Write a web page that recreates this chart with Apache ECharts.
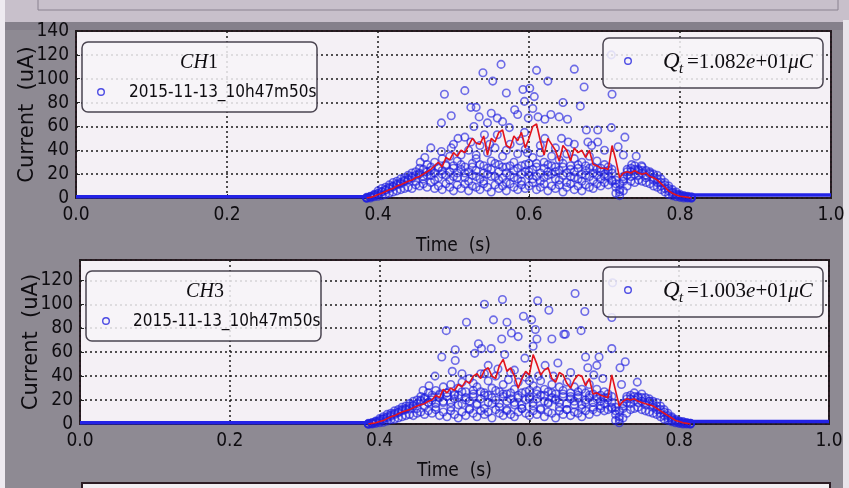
<!DOCTYPE html>
<html>
<head>
<meta charset="utf-8">
<script src="https://cdn.jsdelivr.net/npm/echarts@6/dist/echarts.min.js"></script>
<style>
  html, body { margin: 0; padding: 0; background: #8e8a93; }
  #chart { width: 849px; height: 488px; }
</style>
</head>
<body>
<div id="chart"></div>
<script>
// sample times (s) of the pulse region
const t = [
  0.385, 0.39, 0.395, 0.4, 0.405, 0.41, 0.415, 0.42, 0.425, 0.43,
  0.435, 0.44, 0.445, 0.45, 0.455, 0.46, 0.465, 0.47, 0.475, 0.48,
  0.485, 0.49, 0.495, 0.5, 0.505, 0.51, 0.515, 0.52, 0.525, 0.53,
  0.535, 0.54, 0.545, 0.55, 0.555, 0.56, 0.565, 0.57, 0.575, 0.58,
  0.585, 0.59, 0.595, 0.6, 0.605, 0.61, 0.615, 0.62, 0.625, 0.63,
  0.635, 0.64, 0.645, 0.65, 0.655, 0.66, 0.665, 0.67, 0.675, 0.68,
  0.685, 0.69, 0.695, 0.7, 0.705, 0.71, 0.715, 0.72, 0.725, 0.73,
  0.735, 0.74, 0.745, 0.75, 0.755, 0.76, 0.765, 0.77, 0.775, 0.78,
  0.785, 0.79, 0.795, 0.8, 0.805, 0.81, 0.815
]

// zero level outside the pulse
const baseT = [0.0, 0.39, 0.6, 0.8, 1.0]
const ch1Base = [1, 1, null, 2.5, 2.5]
const ch3Base = [1, 1, null, 2, 2]

// CH1 (uA)
const ch1Mean = [
  0, 0.5, 1.5, 3, 4, 5.5, 7, 8, 10, 11,
  12.5, 14, 15, 17, 18, 20, 22, 24, 27, 30,
  26, 34, 32, 38, 35, 40, 38, 44, 50, 46,
  45, 52, 36, 50, 47, 55, 57, 44, 42, 52,
  48, 55, 42, 50, 60, 62, 48, 36, 50, 45,
  40, 31, 44, 40, 31, 42, 38, 40, 34, 40,
  28, 27, 25, 25, 24, 44, 32, 17, 21, 22,
  21, 23, 21, 20, 21, 18, 17, 15, 12, 9,
  6, 4, 2.5, 1.5, 1, 0.5, 0
]
const ch1Lo = [
  0, 0, 1, 1.5, 2, 3, 4, 5, 6, 7,
  8, 9, 8, 11, 10, 12, 9, 13, 8, 10,
  7, 12, 9, 6, 11, 8, 12, 6, 10, 9,
  7, 12, 9, 5, 11, 8, 10, 6, 12, 9,
  7, 11, 8, 10, 13, 7, 9, 12, 6, 10,
  8, 11, 5, 9, 12, 7, 10, 6, 11, 9,
  8, 12, 10, 13, 11, 14, 4, 2, 6, 10,
  14, 13, 15, 14, 13, 12, 10, 9, 7, 5,
  3, 2, 1, 0.5, 0, 0, 0
]
const ch1Band = [
  0.5, 1, 2.5, 4, 5.5, 7, 9, 10, 12, 13,
  15, 16, 18, 19, 20, 18, 22, 19, 21, 17,
  23, 19, 22, 18, 21, 24, 17, 22, 19, 23,
  16, 21, 20, 24, 18, 22, 17, 21, 19, 23,
  16, 20, 22, 19, 24, 18, 21, 17, 22, 20,
  16, 23, 19, 21, 18, 22, 16, 20, 23, 18,
  21, 19, 22, 20, 18, 21, 9, 12, 16, 19,
  22, 20, 23, 21, 19, 20, 17, 16, 13, 11,
  8, 5, 3.5, 2, 1.5, 1, 0.5
]
const ch1Band2 = [
  0, 1, 2, 3.5, 5, 6.5, 8, 9.5, 11, 12,
  14, 15, 17, 14, 21, 16, 19, 23, 15, 26,
  20, 27, 15, 25, 17, 28, 21, 14, 26, 18,
  28, 14, 25, 18, 29, 15, 26, 13, 27, 17,
  25, 14, 28, 22, 16, 29, 14, 25, 19, 27,
  22, 15, 26, 13, 24, 17, 28, 14, 19, 25,
  15, 24, 16, 18, 23, 15, 12, 5, 14, 22,
  18, 24, 19, 23, 17, 21, 15, 13, 10, 8,
  6, 4, 2.5, 1.5, 1, 0.5, 0
]
const ch1Mid = [
  0, 1.5, 3, 6, 8, 9, 11, 13, 14, 16,
  17, 19, 21, 22, 25, 24, 28, 26, 30, 25,
  33, 28, 35, 27, 31, 36, 26, 40, 29, 33,
  44, 27, 38, 31, 42, 28, 35, 26, 45, 30,
  37, 27, 41, 29, 34, 26, 38, 30, 28, 35,
  26, 32, 29, 37, 27, 33, 25, 30, 27, 35,
  26, 31, 25, 28, 26, 24, 15, 7, 18, 24,
  25, 27, 24, 26, 23, 22, 20, 19, 16, 13,
  10, 7, 5, 3, 2, 1.5, 1
]
const ch1Out = [
  [0.563, 112], [0.539, 105], [0.610, 107], [0.660, 108], [0.625, 98], [0.552, 98],
  [0.488, 87], [0.515, 90], [0.570, 88], [0.592, 91], [0.601, 92], [0.607, 85],
  [0.673, 93], [0.710, 87], [0.645, 80], [0.668, 77], [0.523, 76], [0.530, 76],
  [0.497, 69], [0.534, 68], [0.550, 71], [0.558, 67], [0.581, 74], [0.585, 70],
  [0.594, 81], [0.605, 75], [0.612, 68], [0.629, 70], [0.640, 68], [0.651, 66],
  [0.484, 63], [0.527, 60], [0.545, 63], [0.565, 64], [0.574, 59], [0.599, 67],
  [0.621, 66], [0.676, 57], [0.691, 57], [0.709, 59], [0.727, 51], [0.470, 42],
  [0.506, 50], [0.515, 51], [0.523, 47], [0.541, 53], [0.558, 53], [0.594, 55],
  [0.621, 50], [0.643, 50], [0.652, 47], [0.678, 47], [0.691, 47], [0.718, 43],
  [0.742, 35], [0.484, 39], [0.497, 42], [0.736, 28], [0.749, 27], [0.709, 120],
  [0.500, 45], [0.548, 45], [0.588, 48], [0.615, 44], [0.660, 45], [0.700, 40],
  [0.456, 30], [0.462, 34], [0.530, 36], [0.570, 40], [0.598, 38], [0.635, 42],
  [0.683, 44], [0.725, 36]
]

// CH3 (uA)
const ch3Mean = [
  0, 0.5, 1, 2, 3, 4.5, 6, 7, 8.5, 10,
  11, 12, 13.5, 15, 16, 17, 19, 20, 24, 22,
  29, 26, 30, 28, 33, 31, 36, 34, 40, 42,
  38, 45, 47, 40, 38, 49, 54, 44, 47, 40,
  30, 38, 44, 41, 58, 50, 41, 45, 47, 38,
  35, 43, 41, 34, 30, 37, 41, 40, 32, 38,
  25, 26, 24, 23, 22, 41, 28, 15, 19, 21,
  20, 21, 19, 18, 17, 16, 15, 13, 11, 9,
  7, 5, 3, 2, 1, 0.5, 0
]
const ch3Lo = [
  0, 0, 0.5, 1, 1.5, 2.5, 3.5, 4, 5, 6,
  7, 8, 7, 9, 10, 8, 11, 9, 12, 7,
  10, 6, 11, 8, 5, 10, 7, 12, 9, 6,
  11, 8, 10, 5, 12, 9, 7, 11, 8, 6,
  10, 13, 9, 7, 11, 8, 12, 6, 10, 9,
  5, 11, 8, 12, 7, 10, 9, 6, 11, 8,
  12, 10, 13, 11, 12, 13, 3, 1, 5, 9,
  12, 13, 14, 12, 11, 10, 9, 8, 6, 4,
  3, 2, 1, 0.5, 0, 0, 0
]
const ch3Band = [
  0.5, 1, 2, 3, 4.5, 6, 7.5, 9, 10, 12,
  13, 15, 16, 17, 19, 21, 18, 20, 17, 22,
  19, 23, 18, 21, 24, 17, 22, 19, 23, 16,
  21, 24, 18, 22, 20, 17, 23, 19, 21, 18,
  22, 16, 20, 23, 18, 21, 24, 19, 17, 22,
  20, 18, 23, 17, 21, 19, 22, 16, 20, 22,
  18, 21, 19, 22, 20, 18, 8, 11, 15, 18,
  21, 20, 22, 19, 18, 19, 16, 15, 12, 10,
  7, 5, 3, 2, 1.5, 1, 0.5
]
const ch3Band2 = [
  0, 0.5, 1.5, 2.5, 4, 5, 6.5, 8, 9.5, 11,
  12, 13, 15, 13, 20, 15, 18, 22, 14, 25,
  18, 26, 14, 24, 16, 27, 20, 13, 25, 17,
  27, 13, 24, 17, 28, 14, 25, 12, 26, 16,
  24, 13, 27, 21, 15, 28, 13, 24, 18, 26,
  21, 14, 25, 12, 23, 16, 27, 13, 18, 24,
  14, 23, 15, 17, 22, 14, 11, 4, 13, 21,
  17, 23, 18, 22, 16, 19, 14, 12, 9, 7,
  5, 3.5, 2, 1, 0.5, 0.5, 0
]
const ch3Mid = [
  0, 1, 2.5, 4.5, 6, 8, 9, 11, 12, 14,
  15, 17, 19, 20, 23, 22, 26, 24, 28, 24,
  31, 26, 33, 25, 30, 35, 27, 38, 28, 31,
  42, 26, 36, 30, 40, 27, 33, 25, 43, 29,
  35, 26, 39, 28, 32, 25, 36, 29, 27, 33,
  25, 31, 28, 35, 26, 31, 24, 29, 26, 33,
  25, 29, 24, 27, 25, 23, 14, 6, 17, 23,
  24, 26, 23, 25, 22, 21, 19, 18, 15, 12,
  9, 6, 4, 2.5, 2, 1, 0.5
]
const ch3Out = [
  [0.564, 104], [0.540, 100], [0.611, 103], [0.661, 109], [0.626, 95], [0.552, 87],
  [0.516, 85], [0.489, 78], [0.570, 85], [0.592, 90], [0.603, 87], [0.608, 79],
  [0.674, 94], [0.710, 89], [0.669, 78], [0.646, 75], [0.532, 67], [0.563, 71],
  [0.576, 76], [0.585, 73], [0.610, 71], [0.630, 71], [0.648, 75], [0.501, 62],
  [0.536, 63], [0.549, 63], [0.483, 56], [0.501, 53], [0.567, 58], [0.710, 63],
  [0.527, 59], [0.675, 56], [0.693, 56], [0.721, 47], [0.728, 52], [0.744, 35],
  [0.474, 40], [0.510, 42], [0.545, 49], [0.558, 46], [0.621, 49], [0.638, 51],
  [0.678, 47], [0.690, 49], [0.594, 55], [0.605, 65], [0.711, 118], [0.497, 44],
  [0.540, 42], [0.580, 45], [0.612, 40], [0.655, 43], [0.698, 38], [0.458, 28],
  [0.466, 32], [0.525, 34], [0.572, 37], [0.600, 36], [0.632, 40], [0.686, 41],
  [0.723, 33]
]

const xTicks = [0, 0.2, 0.4, 0.6, 0.8, 1.0]
const channels = ['CH1', 'CH3']
const charges = ['1.082', '1.003']
const stamp = '2015-11-13_10h47m50s'

const SANS = "'DejaVu Sans Condensed', 'DejaVu Sans', sans-serif"
const SERIF = "'Liberation Serif', 'DejaVu Serif', serif"
const BLUE = 'rgba(32, 32, 222, 0.8)'
const RED = '#e3131c'
const INK = '#0e0c10'

const pairs = (xs, ys) => xs.map((x, i) => [x, ys[i]])

const chart = echarts.init(document.getElementById('chart'))

function xAxis (gridIndex, gap) {
  return {
    type: 'value', gridIndex: gridIndex, min: 0, max: 1, interval: 0.2,
    name: 'Time  (s)', nameLocation: 'middle', nameGap: gap, nameMoveOverlap: false,
    nameTextStyle: { fontFamily: SANS, fontSize: 19, color: INK },
    axisLine: { show: false },
    axisTick: { show: true, inside: true, length: 4, lineStyle: { color: '#222' } },
    axisLabel: {
      margin: 8, fontFamily: SANS, fontSize: 19, color: INK,
      formatter: v => xTicks.some(x => Math.abs(x - v) < 1e-6) ? v.toFixed(1) : ''
    },
    splitLine: { show: true, lineStyle: { type: [2, 3], color: '#1a1a1a', width: 1.5 } }
  }
}

function yAxis (gridIndex, max) {
  return {
    type: 'value', gridIndex: gridIndex, min: 0, max: max, interval: 20,
    name: 'Current  (uA)', nameLocation: 'middle', nameGap: 38, nameRotate: 90, nameMoveOverlap: false,
    nameTextStyle: { fontFamily: "'DejaVu Sans', sans-serif", fontSize: 21, color: INK },
    axisLine: { show: false },
    axisTick: { show: true, inside: true, length: 4, lineStyle: { color: '#222' } },
    axisLabel: {
      margin: 7, fontFamily: SANS, fontSize: 19, color: INK,
      formatter: v => (v % 20 === 0 ? String(v) : '')
    },
    splitLine: { show: true, lineStyle: { type: [2, 3], color: '#1a1a1a', width: 1.5 } }
  }
}

function scatter (idx, data) {
  return {
    type: 'scatter', xAxisIndex: idx, yAxisIndex: idx, data: data,
    symbol: 'circle', symbolSize: 7.5, silent: true,
    itemStyle: { color: 'transparent', borderColor: BLUE, borderWidth: 1.6 }
  }
}

function channelSeries (idx, base, lo, band, band2, mid, out, mean) {
  return [
    {
      type: 'line', xAxisIndex: idx, yAxisIndex: idx, data: pairs(baseT, base),
      showSymbol: false, connectNulls: false, lineStyle: { color: '#2323e6', width: 3.5 }
    },
    scatter(idx, pairs(t, lo)),
    scatter(idx, pairs(t, band)),
    scatter(idx, pairs(t, band2)),
    scatter(idx, pairs(t, mid)),
    scatter(idx, out),
    {
      type: 'line', xAxisIndex: idx, yAxisIndex: idx, data: pairs(t, mean),
      showSymbol: false, z: 5, lineStyle: { color: RED, width: 1.6 }
    }
  ]
}

function legends (i, top) {
  const dy = top
  return [
    // channel box
    {
      type: 'rect', z: 100,
      shape: { x: 82 + i * 4, y: dy + 11, width: 235, height: 70, r: 6 },
      style: { fill: 'rgba(247,244,248,0.85)', stroke: '#4a4450', lineWidth: 1.5 }
    },
    {
      type: 'text', z: 101,
      style: {
        x: 199 + i * 6, y: dy + 32, text: '{i|CH}{n|' + channels[i].slice(2) + '}',
        align: 'center', verticalAlign: 'middle', fill: INK,
        rich: {
          i: { fontFamily: SERIF, fontStyle: 'italic', fontSize: 20, fill: INK },
          n: { fontFamily: SERIF, fontSize: 20, fill: INK }
        }
      }
    },
    {
      type: 'circle', z: 101,
      shape: { cx: 101 + i * 5, cy: dy + 61, r: 3.3 },
      style: { fill: 'none', stroke: BLUE, lineWidth: 1.4 }
    },
    {
      type: 'text', z: 101,
      style: {
        x: 129 + i * 4, y: dy + 62, text: stamp, verticalAlign: 'middle',
        fontFamily: SANS, fontSize: 17, fill: INK
      }
    },
    // charge box
    {
      type: 'rect', z: 100,
      shape: { x: 603, y: dy + 7, width: 220, height: 50, r: 6 },
      style: { fill: 'rgba(247,244,248,0.85)', stroke: '#4a4450', lineWidth: 1.5 }
    },
    {
      type: 'circle', z: 101,
      shape: { cx: 628, cy: dy + 30, r: 3.3 },
      style: { fill: 'none', stroke: BLUE, lineWidth: 1.4 }
    },
    {
      type: 'text', z: 101,
      style: {
        x: 663, y: dy + 31, text: 'Q', verticalAlign: 'middle',
        fontFamily: SERIF, fontStyle: 'italic', fontSize: 23, fill: INK
      }
    },
    {
      type: 'text', z: 101,
      style: {
        x: 679, y: dy + 38, text: 't', verticalAlign: 'middle',
        fontFamily: SERIF, fontStyle: 'italic', fontSize: 15, fill: INK
      }
    },
    {
      type: 'text', z: 101,
      style: {
        x: 687, y: dy + 31,
        text: '{n|=' + charges[i] + '}{i|e}{n|+01}{i|μC}',
        verticalAlign: 'middle', fill: INK,
        rich: {
          n: { fontFamily: SERIF, fontSize: 21, fill: INK },
          i: { fontFamily: SERIF, fontStyle: 'italic', fontSize: 21, fill: INK }
        }
      }
    }
  ]
}

const option = {
  backgroundColor: '#8e8a93',
  animation: false,
  grid: [
    { left: 76, right: 18, top: 31, height: 167, show: true, backgroundColor: '#f4f0f5', borderColor: '#2c1c24', borderWidth: 2 },
    { left: 80, right: 20, top: 260, height: 164, show: true, backgroundColor: '#f4f0f5', borderColor: '#2c1c24', borderWidth: 2 }
  ],
  xAxis: [xAxis(0, 39), xAxis(1, 38)],
  yAxis: [yAxis(0, 140), yAxis(1, 137)],
  graphic: [
    { type: 'rect', z: -10, silent: true, shape: { x: 0, y: 0, width: 849, height: 22 }, style: { fill: '#c8c0cb' } },
    { type: 'rect', z: -9, silent: true, shape: { x: 38, y: -10, width: 800, height: 20 }, style: { fill: 'none', stroke: '#8a8290', lineWidth: 1 } },
    { type: 'rect', z: -10, silent: true, shape: { x: 0, y: 22, width: 849, height: 8 }, style: { fill: '#85808b' } },
    { type: 'rect', z: -10, silent: true, shape: { x: 0, y: 0, width: 5, height: 488 }, style: { fill: '#eeeaf0' } },
    { type: 'rect', z: -10, silent: true, shape: { x: 843, y: 20, width: 6, height: 468 }, style: { fill: '#e8e4ea' } },
    { type: 'rect', z: -10, silent: true, shape: { x: 82, y: 483, width: 748, height: 10 }, style: { fill: '#f2eff3', stroke: '#2c1c24', lineWidth: 2 } }
  ].concat(legends(0, 31), legends(1, 260)),
  series: [].concat(
    channelSeries(0, ch1Base, ch1Lo, ch1Band, ch1Band2, ch1Mid, ch1Out, ch1Mean),
    channelSeries(1, ch3Base, ch3Lo, ch3Band, ch3Band2, ch3Mid, ch3Out, ch3Mean)
  )
}

chart.setOption(option)
</script>
</body>
</html>
